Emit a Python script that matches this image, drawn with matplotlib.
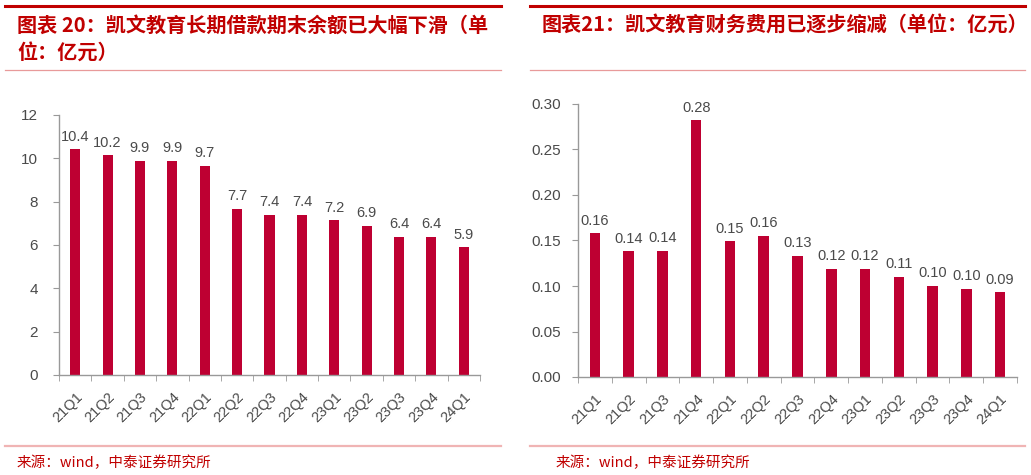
import matplotlib
matplotlib.use("Agg")
import matplotlib.pyplot as plt
from matplotlib.lines import Line2D
from matplotlib.ticker import FixedLocator, FormatStrFormatter

plt.rcParams["font.family"] = ["Liberation Sans", "Noto Sans CJK SC"]

quarters = ["21Q1", "21Q2", "21Q3", "21Q4", "22Q1", "22Q2", "22Q3",
            "22Q4", "23Q1", "23Q2", "23Q3", "23Q4", "24Q1"]
loans = [10.42, 10.15, 9.9, 9.9, 9.66, 7.66, 7.40, 7.40, 7.14, 6.89, 6.39, 6.39, 5.89]
loan_labels = ["10.4", "10.2", "9.9", "9.9", "9.7", "7.7", "7.4", "7.4", "7.2",
               "6.9", "6.4", "6.4", "5.9"]
fin_cost = [0.158, 0.138, 0.139, 0.282, 0.149, 0.155, 0.133, 0.119, 0.119,
            0.110, 0.100, 0.097, 0.093]
fin_labels = ["0.16", "0.14", "0.14", "0.28", "0.15", "0.16", "0.13", "0.12",
              "0.12", "0.11", "0.10", "0.10", "0.09"]

title_left = ["图表 20：凯文教育长期借款期末余额已大幅下滑（单", "位：亿元）"]
title_right = "图表21：凯文教育财务费用已逐步缩减（单位：亿元）"
source = "来源：wind，中泰证券研究所"

W, H = 1031, 475
BAR = "#BE0032"
RED = "#C00000"
AXIS = "#999999"
TXT = "#4A4A4A"
CJK = ["Noto Sans CJK SC", "DejaVu Sans"]

fig = plt.figure(figsize=(W / 100, H / 100), dpi=100)


def px_axes(x0, x1, ytop, ybot):
    return fig.add_axes([x0 / W, 1 - ybot / H, (x1 - x0) / W, (ybot - ytop) / H])


def hline(x0, x1, y, color, lw):
    fig.add_artist(Line2D([x0 / W, x1 / W], [1 - y / H, 1 - y / H],
                          color=color, lw=lw, transform=fig.transFigure))


def bar_panel(ax, values, labels, ymax, ystep, fmt, ypad):
    x = list(range(len(quarters)))
    bars = ax.bar(x, values, width=0.31, color=BAR)
    ax.bar_label(bars, labels=labels, padding=4, fontsize=10.5, color=TXT)
    ax.set_xlim(-0.5, len(quarters) - 0.5)
    ax.set_ylim(0, ymax)
    ax.set_yticks([i * ystep for i in range(int(round(ymax / ystep)) + 1)])
    ax.yaxis.set_major_formatter(FormatStrFormatter(fmt))
    ax.set_xticks(x)
    ax.set_xticklabels(quarters, rotation=45, ha="right", va="top",
                       rotation_mode="anchor")
    ax.xaxis.set_minor_locator(FixedLocator([i - 0.5 for i in range(len(quarters) + 1)]))
    ax.tick_params(axis="x", which="major", length=0, pad=11, labelsize=10.5,
                   labelcolor=TXT)
    ax.tick_params(axis="x", which="minor", length=4, color=AXIS, direction="out")
    ax.tick_params(axis="y", length=4, color=AXIS, labelsize=11, labelcolor=TXT,
                   pad=ypad)
    for s in ["top", "right"]:
        ax.spines[s].set_visible(False)
    for s in ["left", "bottom"]:
        ax.spines[s].set_color(AXIS)
        ax.spines[s].set_linewidth(1)


ax1 = px_axes(59, 480, 115, 375)
bar_panel(ax1, loans, loan_labels, 12, 2, "%d", 11)

ax2 = px_axes(578, 1017, 104, 377)
bar_panel(ax2, fin_cost, fin_labels, 0.30, 0.05, "%.2f", 8)

# header / footer rules
hline(5, 501, 6, RED, 2.2)
hline(530, 1025, 6, RED, 2.2)
hline(5, 501, 70, "#E89A9A", 0.9)
hline(530, 1025, 70, "#E89A9A", 0.9)
hline(5, 501, 446, "#F0B4B4", 1.6)
hline(530, 1025, 446, "#F0B4B4", 1.6)

fig.text(17 / W, 1 - 25 / H, title_left[0], family=CJK, fontsize=14.5,
         fontweight="bold", color=RED, ha="left", va="center")
fig.text(17 / W, 1 - 52 / H, title_left[1], family=CJK, fontsize=14.5,
         fontweight="bold", color=RED, ha="left", va="center")
fig.text(542 / W, 1 - 25 / H, title_right, family=CJK, fontsize=14.5,
         fontweight="bold", color=RED, ha="left", va="center")

fig.text(17 / W, 1 - 463 / H, source, family=CJK, fontsize=10.5, color=RED,
         ha="left", va="center")
fig.text(556 / W, 1 - 463 / H, source, family=CJK, fontsize=10.5, color=RED,
         ha="left", va="center")

fig.savefig("out.png", dpi=100)
